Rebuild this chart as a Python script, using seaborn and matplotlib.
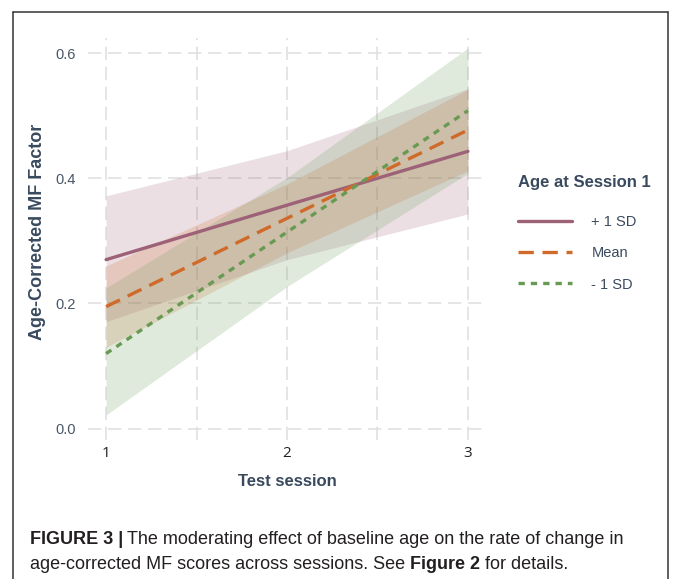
import numpy as np
import pandas as pd
import matplotlib
matplotlib.use("Agg")
import matplotlib.pyplot as plt
import seaborn as sns
from matplotlib.lines import Line2D

# Model-implied trajectories by baseline age group
sessions = [1, 2, 3]
groups = ["+ 1 SD", "Mean", "- 1 SD"]
fit_plus = [0.270, 0.357, 0.443]
fit_mean = [0.195, 0.336, 0.477]
fit_minus = [0.120, 0.314, 0.508]
# 95% confidence bands
lo_plus = [0.171, 0.270, 0.343]
hi_plus = [0.372, 0.444, 0.543]
lo_mean = [0.130, 0.281, 0.412]
hi_mean = [0.260, 0.391, 0.542]
lo_minus = [0.022, 0.227, 0.408]
hi_minus = [0.225, 0.401, 0.608]

colors = {"+ 1 SD": "#9E6278", "Mean": "#D06A2A", "- 1 SD": "#689A53"}
dash_map = {"+ 1 SD": "", "Mean": (4.6, 2.6), "- 1 SD": (1.9, 1.8)}

df = pd.DataFrame({
    "session": sessions * 3,
    "fit": fit_plus + fit_mean + fit_minus,
    "lo": lo_plus + lo_mean + lo_minus,
    "hi": hi_plus + hi_mean + hi_minus,
    "group": [g for g in groups for _ in sessions],
})

sns.set_theme(style="white")
plt.rcParams["font.family"] = ["Liberation Sans", "DejaVu Sans"]

W, H = 673, 579
fig = plt.figure(figsize=(W / 100, H / 100), dpi=100)
ax = fig.add_axes([88 / W, (H - 440) / H, (486 - 88) / W, (440 - 38) / H])

# confidence ribbons
for g in groups:
    sub = df[df["group"] == g]
    ax.fill_between(sub["session"], sub["lo"], sub["hi"], color=colors[g],
                    alpha=0.2, linewidth=0, zorder=2)

sns.lineplot(data=df, x="session", y="fit", hue="group", style="group",
             hue_order=groups, style_order=groups, palette=colors,
             dashes=dash_map, linewidth=2.4, ax=ax, legend=False, zorder=3)

ax.set_xlim(0.9, 3.1)
ax.set_ylim(-0.018, 0.624)
ax.set_xticks([1, 2, 3])
ax.set_xticks([1.5, 2.5], minor=True)
ax.set_yticks([0.0, 0.2, 0.4, 0.6])
ax.set_xticklabels(["1", "2", "3"], fontsize=11, color="#222222",
                   family=["Open Sans", "DejaVu Sans"])
ax.set_yticklabels(["0.0", "0.2", "0.4", "0.6"], fontsize=10.5, color="#4A5568",
                   family=["Liberation Sans Narrow", "Liberation Sans"])
ax.tick_params(axis="both", which="both", length=0)
ax.tick_params(axis="y", pad=8.5)
ax.tick_params(axis="x", pad=4)

grid_kw = dict(color="#E0E0E0", linewidth=1.2, linestyle=(0, (8, 4)))
ax.grid(True, which="major", axis="both", **grid_kw)
ax.grid(True, which="minor", axis="x", **grid_kw)
ax.set_axisbelow(True)
for s in ax.spines.values():
    s.set_visible(False)

title_col = "#3A4A5E"
ax.set_xlabel("Test session", fontsize=12, fontweight="bold", color=title_col, va="center")
ax.xaxis.set_label_coords(0.5, (440 - 482) / 402)
ax.set_ylabel("Age-Corrected MF Factor", fontsize=13, fontweight="bold", color=title_col, va="center")
ax.yaxis.set_label_coords((38 - 88) / 398, (440 - 232) / 402)

handles = [Line2D([], [], color=colors[g], linewidth=2.4,
                  dashes=dash_map[g] if dash_map[g] else (None, None)) for g in groups]
leg = ax.legend(handles, groups, title="Age at Session 1", loc="upper left",
                bbox_to_anchor=(512 / W, 1 - 169 / H), bbox_transform=fig.transFigure,
                frameon=False, fontsize=10.5, handlelength=3.7, handletextpad=1.35,
                labelspacing=1.19, alignment="left", borderaxespad=0)
leg.get_title().set_fontweight("bold")
leg.get_title().set_fontsize(12)
leg.get_title().set_color(title_col)
leg._legend_box.sep = 18
for t in leg.get_texts():
    t.set_color("#3A4A5E")

# figure frame
fc = "#333333"
fig.add_artist(Line2D([13 / W, 13 / W], [0, 1 - 12 / H], color=fc, linewidth=1.1))
fig.add_artist(Line2D([13 / W, 668 / W], [1 - 12 / H, 1 - 12 / H], color=fc, linewidth=1.1))
fig.add_artist(Line2D([668 / W, 668 / W], [0, 1 - 12 / H], color=fc, linewidth=1.1))

# caption
cap_kw = dict(fontsize=13, color="#231F20", va="baseline", ha="left")
t1 = fig.text(30 / W, 1 - 544 / H, "FIGURE 3 |", fontweight="bold", **cap_kw)
fig.canvas.draw()
r = fig.canvas.get_renderer()
bb = t1.get_window_extent(r)
fig.text(bb.x1 / W + 4 / W, 1 - 544 / H,
         "The moderating effect of baseline age on the rate of change in", **cap_kw)
t3 = fig.text(30 / W, 1 - 569 / H, "age-corrected MF scores across sessions. See ", **cap_kw)
bb3 = t3.get_window_extent(r)
t4 = fig.text(bb3.x1 / W, 1 - 569 / H, "Figure 2", fontweight="bold", **cap_kw)
bb4 = t4.get_window_extent(r)
fig.text(bb4.x1 / W, 1 - 569 / H, " for details.", **cap_kw)

fig.savefig("out.png", dpi=100, facecolor="white")
